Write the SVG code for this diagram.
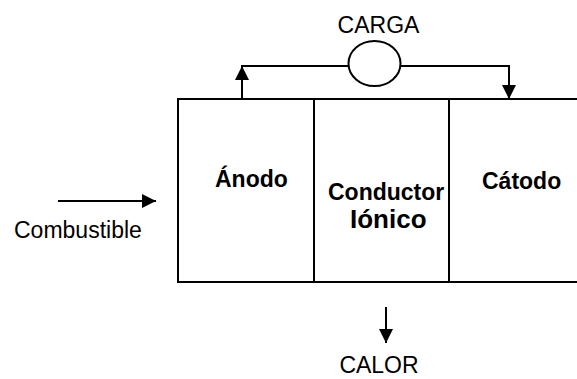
<svg xmlns="http://www.w3.org/2000/svg" width="577" height="379" viewBox="0 0 577 379">
<style>
.ln{stroke:#000;stroke-width:2;fill:none}
.t{font-family:"Liberation Sans",Arial,sans-serif;font-size:23px;fill:#000}
.b{font-weight:bold}
</style>
<defs>
<marker id="ah" viewBox="0 0 14 14" refX="14" refY="7" markerWidth="14" markerHeight="14" markerUnits="userSpaceOnUse" orient="auto">
<path d="M0,0 L14,7 L0,14 Z" fill="#000"/>
</marker>
</defs>
<rect width="577" height="379" fill="#fff"/>
<g id="cell">
<path class="ln" d="M577,99 H178 V282 H577"/>
</g>
<g id="anodo">
<line class="ln" x1="314" y1="99" x2="314" y2="282"/>
<text class="t b" x="215" y="187">Ánodo</text>
</g>
<g id="conductor">
<line class="ln" x1="449" y1="99" x2="449" y2="282"/>
<text class="t b" x="328" y="200">Conductor</text>
<text class="t b" x="350" y="228" style="font-size:26px">Iónico</text>
</g>
<g id="catodo">
<text class="t b" x="482" y="189">Cátodo</text>
</g>
<g id="connectors">
<line class="ln" x1="242" y1="99" x2="242" y2="66" marker-end="url(#ah)"/>
<path class="ln" d="M241,66 H509 V99" marker-end="url(#ah)"/>
<line class="ln" x1="58" y1="201" x2="156" y2="201" marker-end="url(#ah)"/>
<line class="ln" x1="386" y1="307" x2="386" y2="343" marker-end="url(#ah)"/>
</g>
<g id="carga">
<ellipse cx="374.5" cy="63.5" rx="26" ry="22.5" fill="#fff" stroke="#000" stroke-width="2"/>
<text class="t" x="378.5" y="33" text-anchor="middle">CARGA</text>
</g>
<g id="combustible">
<text class="t" x="14" y="238">Combustible</text>
</g>
<g id="calor">
<text class="t" x="379" y="373" text-anchor="middle">CALOR</text>
</g>
</svg>
